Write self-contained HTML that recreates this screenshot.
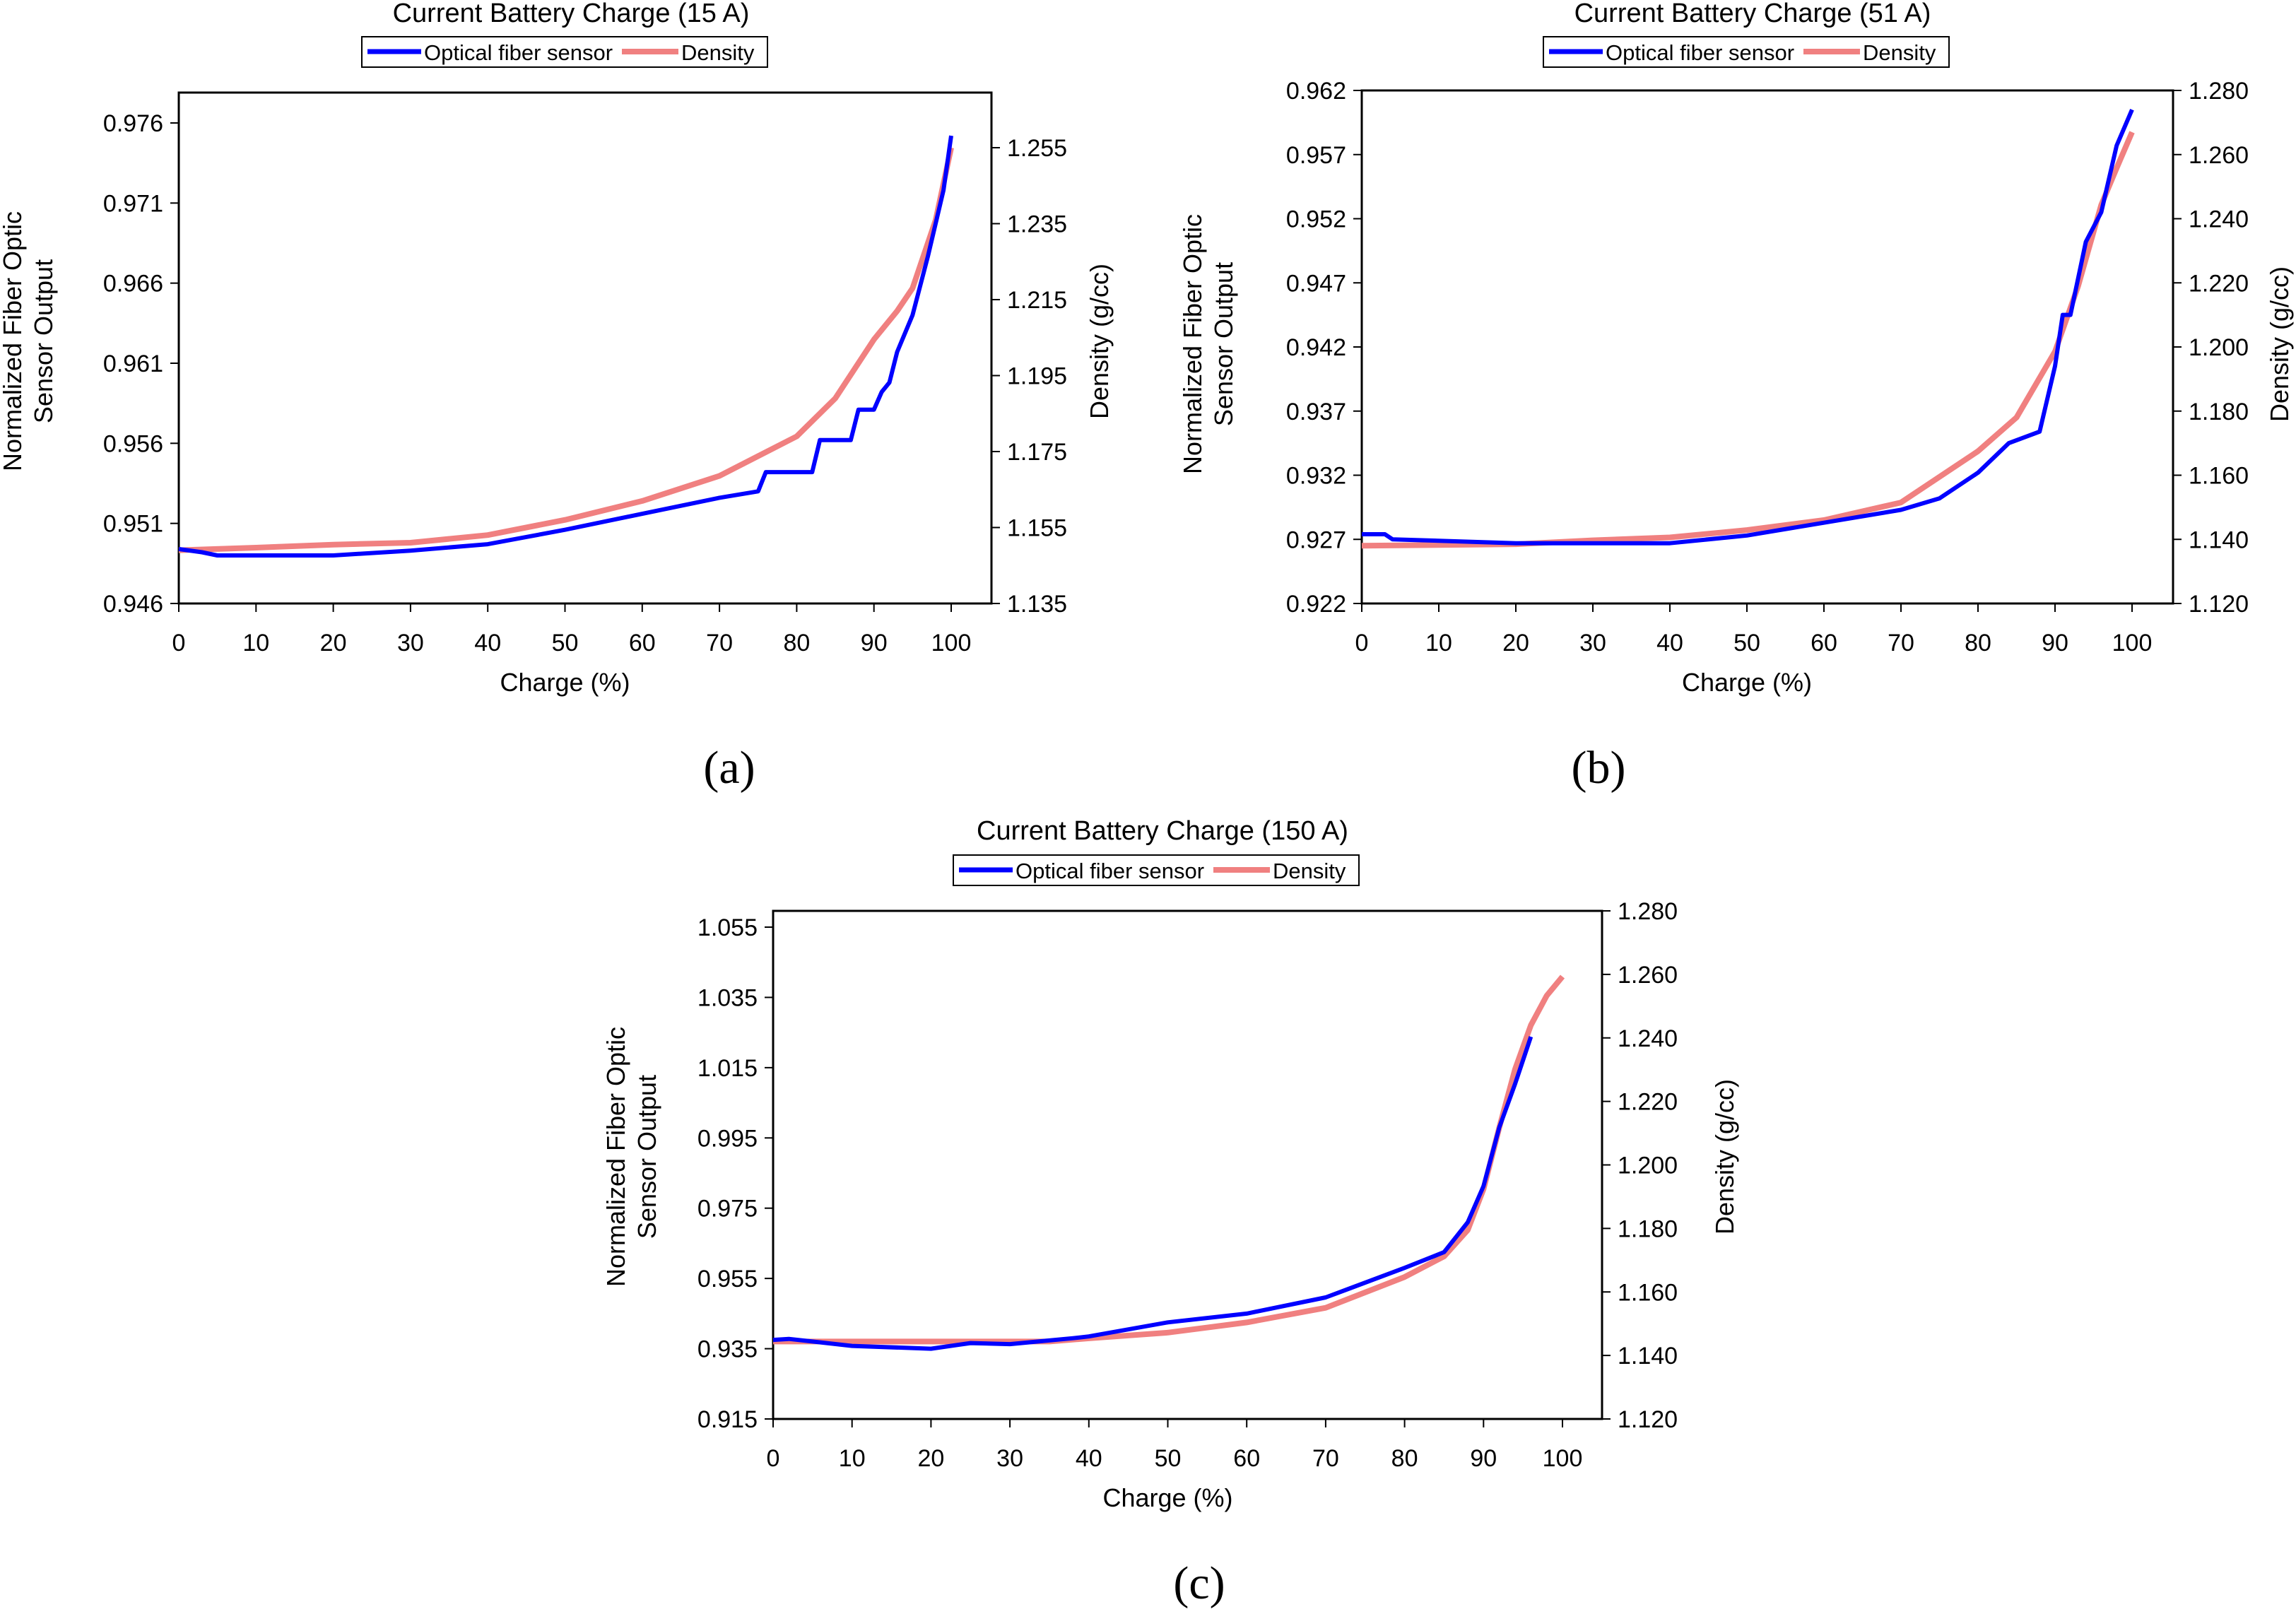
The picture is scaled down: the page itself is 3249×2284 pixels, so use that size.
<!DOCTYPE html>
<html><head><meta charset="utf-8"><style>
html,body{margin:0;padding:0;background:#fff;}
svg{display:block;}
text{font-family:"Liberation Sans Narrow","Liberation Sans",sans-serif;fill:#000;}
.ax{font-family:"Liberation Sans",sans-serif;}
.cap{font-family:"Liberation Serif",serif;}
</style></head><body>
<svg id="fig" width="3249" height="2284" viewBox="0 0 3249 2284" xmlns="http://www.w3.org/2000/svg"></svg>
<script>
// ---- data: chart (a) 15 A ----
const aSensorX = [0,3,5,10,20,30,40,50,60,70,75,76,82,83,87,88,90,91,92,93,95,97,99,100];
const aSensorY = [0.9494,0.9492,0.9490,0.9490,0.9490,0.9493,0.9497,0.9506,0.9516,0.9526,0.9530,0.9542,0.9542,0.9562,0.9562,0.9581,0.9581,0.9592,0.9598,0.9617,0.9640,0.9677,0.9718,0.9752];
const aDensX = [0,10,20,30,40,50,60,70,80,85,90,93,95,98,100];
const aDensY = [1.149,1.1497,1.1505,1.151,1.153,1.157,1.162,1.1686,1.179,1.189,1.2045,1.212,1.218,1.236,1.255];
const aLeftTicks = ["0.946","0.951","0.956","0.961","0.966","0.971","0.976"];
const aRightTicks = ["1.135","1.155","1.175","1.195","1.215","1.235","1.255"];
// ---- data: chart (b) 51 A ----
const bSensorX = [0,3,4,20,40,50,60,70,75,80,84,88,90,91,92,94,96,98,100];
const bSensorY = [0.9274,0.9274,0.9270,0.9267,0.9267,0.9273,0.9283,0.9293,0.9302,0.9322,0.9345,0.9354,0.9405,0.9445,0.9445,0.9502,0.9525,0.9577,0.9605];
const bDensX = [0,20,30,40,50,60,70,80,85,90,93,96,98,100];
const bDensY = [1.138,1.1385,1.1397,1.1406,1.1429,1.146,1.1515,1.1675,1.178,1.1986,1.219,1.2443,1.2558,1.267];
const bLeftTicks = ["0.922","0.927","0.932","0.937","0.942","0.947","0.952","0.957","0.962"];
const bRightTicks = ["1.120","1.140","1.160","1.180","1.200","1.220","1.240","1.260","1.280"];
// ---- data: chart (c) 150 A ----
const cSensorX = [0,2,10,20,25,30,38,40,50,60,70,80,85,88,90,92,94,96];
const cSensorY = [0.9375,0.9378,0.9358,0.9350,0.9366,0.9363,0.9380,0.9385,0.9425,0.9450,0.9496,0.9580,0.9625,0.9710,0.9813,0.9980,1.0104,1.0238];
const cDensX = [0,25,35,40,50,60,70,80,85,88,90,92,94,96,98,100];
const cDensY = [1.1444,1.1444,1.1444,1.1454,1.1472,1.1504,1.155,1.1647,1.1712,1.1795,1.1924,1.2118,1.2302,1.244,1.2533,1.2593];
const cLeftTicks = ["0.915","0.935","0.955","0.975","0.995","1.015","1.035","1.055"];
const cRightTicks = ["1.120","1.140","1.160","1.180","1.200","1.220","1.240","1.260","1.280"];
const xTickLabels = ["0","10","20","30","40","50","60","70","80","90","100"];

const NS = "http://www.w3.org/2000/svg";
const svg = document.getElementById('fig');
function mk(tag, attrs, parent, txt){
  const e = document.createElementNS(NS, tag);
  for (const k in attrs) e.setAttribute(k, attrs[k]);
  if (txt !== undefined) e.textContent = txt;
  (parent||svg).appendChild(e);
  return e;
}

function drawChart(L, title, sX, sY, dX, dY, lt, rt, cap, id){
  const g = mk('g', {});
  
  
  const lMin = parseFloat(lt[0]), lMax = parseFloat(lt[lt.length-1]);
  const rMin = parseFloat(rt[0]), rMax = parseFloat(rt[rt.length-1]);
  const xs = v => L.x0 + (L.x100 - L.x0) * v / 100;
  const yl = v => L.lBot + (L.lTop - L.lBot) * (v - lMin) / (lMax - lMin);
  const yr = v => L.rBot + (L.rTop - L.rBot) * (v - rMin) / (rMax - rMin);
  // title
  const t = mk('text', {x:L.tx, y:L.ty, 'font-size':38, 'text-anchor':'middle'}, g, title);
  
  
  // legend
  const lg = mk('g', {}, g);
  
  
  mk('rect', {x:L.lgx, y:L.lgy, width:L.lgw, height:43, fill:'#fff', stroke:'#000', 'stroke-width':2}, lg);
  mk('line', {x1:L.lgx+8, x2:L.lgx+84, y1:L.lgy+21, y2:L.lgy+21, stroke:'#0000ff', 'stroke-width':7}, lg);
  const e1 = mk('text', {x:L.lgx+88, y:L.lgy+33, 'font-size':31}, lg, 'Optical fiber sensor');
  
  
  mk('line', {x1:L.lgx+368, x2:L.lgx+448, y1:L.lgy+21, y2:L.lgy+21, stroke:'#f08080', 'stroke-width':8}, lg);
  const e2 = mk('text', {x:L.lgx+452, y:L.lgy+33, 'font-size':31}, lg, 'Density');
  
  
  // frame
  const fr = mk('rect', {x:L.fl, y:L.ft, width:L.fr-L.fl, height:L.fb-L.ft, fill:'#fff', stroke:'#000', 'stroke-width':3}, g);
  
  
  // left ticks
  lt.forEach(s => {
    const y = yl(parseFloat(s));
    mk('line', {x1:L.fl-12, x2:L.fl, y1:y, y2:y, stroke:'#000', 'stroke-width':2}, g);
    const tt = mk('text', {x:L.fl-22, y:y+12, 'font-size':34, 'text-anchor':'end'}, g, s);
    
    
  });
  rt.forEach(s => {
    const y = yr(parseFloat(s));
    mk('line', {x1:L.fr, x2:L.fr+12, y1:y, y2:y, stroke:'#000', 'stroke-width':2}, g);
    const tt = mk('text', {x:L.fr+22, y:y+12, 'font-size':34}, g, s);
    
    
  });
  xTickLabels.forEach(s => {
    const x = xs(parseFloat(s));
    mk('line', {x1:x, x2:x, y1:L.fb, y2:L.fb+12, stroke:'#000', 'stroke-width':2}, g);
    const tt = mk('text', {x:x, y:L.fb+67, 'font-size':34, 'text-anchor':'middle'}, g, s);
    
    
  });
  const xt = mk('text', {x:(L.x0+L.x100)/2, y:L.fb+124, 'font-size':36, 'text-anchor':'middle'}, g, 'Charge (%)');
  
  
  const yt = mk('text', {transform:`translate(${L.ylx},${L.yc}) rotate(-90)`, 'font-size':36, 'text-anchor':'middle', class:'ax'}, g);
  
  
  mk('tspan', {x:0, y:0}, yt, 'Normalized Fiber Optic');
  mk('tspan', {x:0, y:44}, yt, 'Sensor Output');
  const rtt = mk('text', {transform:`translate(${L.yrx},${L.yc}) rotate(-90)`, 'font-size':36, 'text-anchor':'middle', class:'ax'}, g, 'Density (g/cc)');
  
  
  // series
  const dp = dX.map((x,i) => xs(x).toFixed(1)+','+yr(dY[i]).toFixed(1)).join(' ');
  const dl = mk('polyline', {points:dp, fill:'none', stroke:'#f08080', 'stroke-width':8, 'stroke-linejoin':'round'}, g);
  
  
  const sp = sX.map((x,i) => xs(x).toFixed(1)+','+yl(sY[i]).toFixed(1)).join(' ');
  const sl = mk('polyline', {points:sp, fill:'none', stroke:'#0000ff', 'stroke-width':6, 'stroke-linejoin':'round'}, g);
  
  
  // re-draw density on top partly like original overlap
  const c = mk('text', {x:L.capx, y:L.capy, 'font-size':66, 'text-anchor':'middle', class:'cap'}, g, cap);
  
  
}

drawChart({fl:253, fr:1403, ft:131, fb:854, x0:253, x100:1346, lTop:174, lBot:854, rTop:209, rBot:854,
  tx:808, ty:31, lgx:512, lgy:52, lgw:574, ylx:30, yrx:1568, yc:483, capx:1032, capy:1108},
  'Current Battery Charge (15 A)', aSensorX, aSensorY, aDensX, aDensY, aLeftTicks, aRightTicks, '(a)', 'a');
drawChart({fl:1927, fr:3075, ft:128, fb:854, x0:1927, x100:3017, lTop:128, lBot:854, rTop:128, rBot:854,
  tx:2480, ty:31, lgx:2184, lgy:52, lgw:574, ylx:1700, yrx:3238, yc:487, capx:2262, capy:1108},
  'Current Battery Charge (51 A)', bSensorX, bSensorY, bDensX, bDensY, bLeftTicks, bRightTicks, '(b)', 'b');
drawChart({fl:1094, fr:2267, ft:1289, fb:2008, x0:1094, x100:2211, lTop:1312, lBot:2008, rTop:1289, rBot:2008,
  tx:1645, ty:1188, lgx:1349, lgy:1210, lgw:574, ylx:884, yrx:2453, yc:1637, capx:1697, capy:2262},
  'Current Battery Charge (150 A)', cSensorX, cSensorY, cDensX, cDensY, cLeftTicks, cRightTicks, '(c)', 'c');
</script>
</body></html>
